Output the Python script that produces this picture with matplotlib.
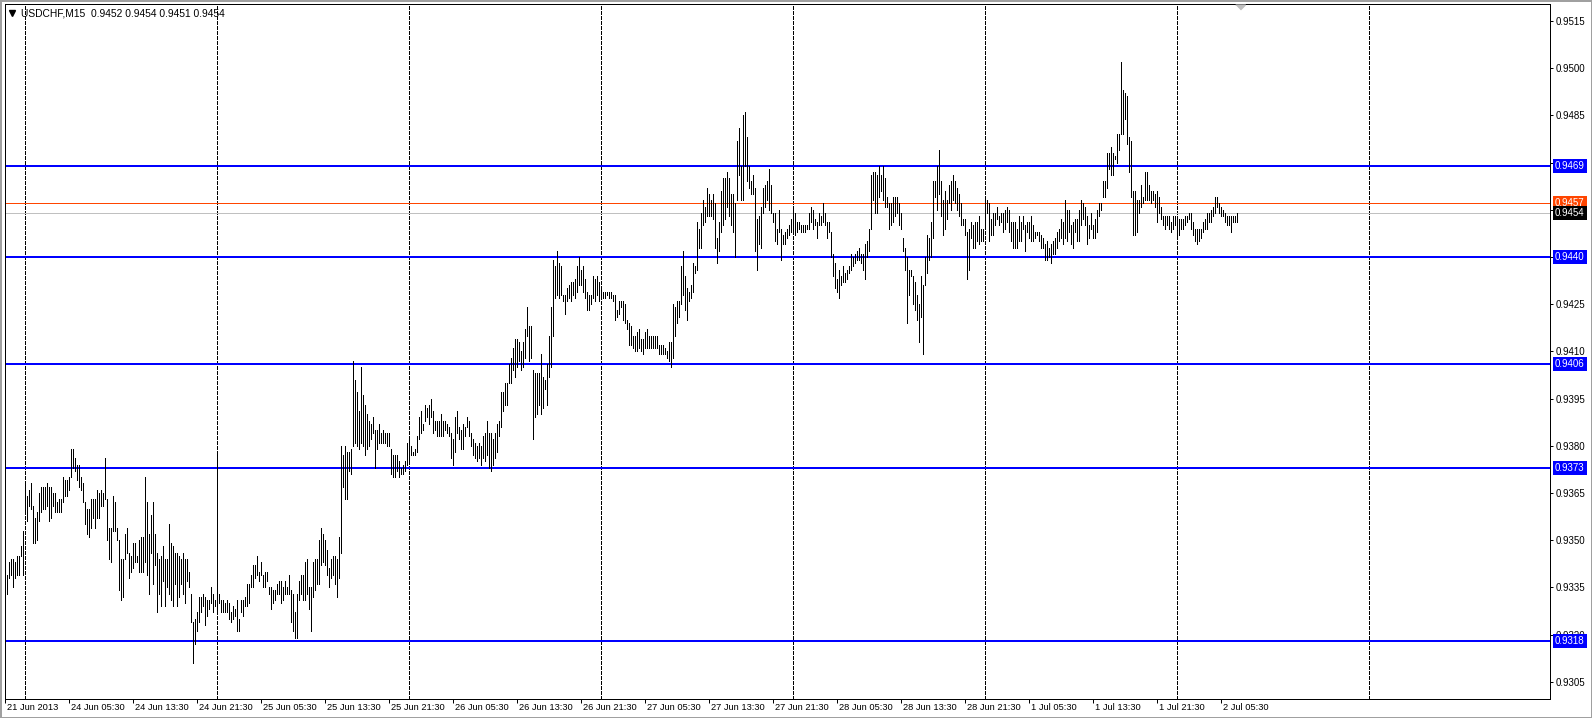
import matplotlib
matplotlib.use("Agg")
import matplotlib.pyplot as plt
import matplotlib.transforms as mtransforms
from matplotlib.lines import Line2D
from matplotlib.patches import Rectangle
import numpy as np

# USDCHF M15 bars, high / low in pips above 0.9300 (one value per bar)
base_price = 0.9300
high_pips = [
    39, 39, 43, 44, 44, 43, 45, 45, 48, 53, 68, 64, 66, 68, 61, 57, 59, 65, 67, 67,
    67, 68, 67, 67, 65, 65, 62, 63, 63, 70, 69, 69, 70, 79, 79, 76, 74, 74, 70, 68,
    62, 60, 60, 63, 63, 63, 66, 65, 66, 65, 76, 63, 54, 54, 64, 62, 54, 50, 44, 44,
    52, 54, 46, 45, 49, 49, 45, 50, 51, 51, 70, 62, 52, 58, 62, 52, 46, 44, 45, 48,
    44, 44, 55, 49, 48, 46, 46, 45, 44, 46, 44, 44, 40, 33, 24, 25, 27, 32, 32, 33,
    32, 31, 31, 35, 33, 31, 78, 33, 31, 31, 30, 31, 30, 27, 29, 28, 31, 25,
    31, 31, 32, 36, 36, 39, 42, 42, 45, 40, 43, 39, 40, 40, 35, 35, 34, 34, 36, 37,
    37, 35, 37, 35, 39, 34, 33, 27, 33, 37, 39, 39, 43, 44, 35, 35, 43, 44, 44, 50,
    54, 52, 50, 47, 41, 44, 45, 45, 44, 51, 80, 77, 80, 78, 78, 79, 107, 101, 97, 91,
    105, 96, 93, 90, 88, 87, 89, 85, 85, 87, 84, 85, 84, 84, 84, 79, 77, 77, 77, 75,
    73, 74, 75, 81, 82, 80, 78, 79, 83, 89, 91, 87, 93, 92, 93, 95, 91, 88, 88, 88,
    90, 88, 88, 87, 86, 84, 82, 89, 91, 86, 85, 87, 86, 89, 88,
    84, 82, 81, 80, 81, 80, 83, 84, 88, 84, 84, 82, 84, 87, 88, 97, 97, 100, 100, 106,
    108, 111, 114, 114, 113, 110, 113, 117, 124, 118, 118, 104, 103, 103, 103, 109, 102, 101, 106, 115,
    124, 139, 137, 142, 138, 137, 128, 128, 130, 131, 132, 132, 133, 137, 140, 136, 137, 133, 129, 128,
    128, 134, 133, 134, 132, 130, 129, 129, 129, 129, 129, 128, 128, 123, 126, 126, 126, 125, 120, 119,
    118, 115, 115, 116, 117, 114, 114, 116, 117, 115, 115, 115, 115, 115, 112, 112, 112, 111, 110, 113,
    113, 125, 124, 126, 126, 137, 142, 134, 130, 129, 131, 138, 137, 151, 149,
    154, 158, 156, 162, 160, 158, 160, 157, 146, 151, 161, 165, 165, 167, 165, 160, 160, 157, 177, 181,
    169, 185, 186, 178, 169, 164, 166, 162, 152, 153, 156, 162, 163, 164, 168, 163, 154, 154, 149, 155,
    149, 147, 148, 149, 150, 152, 156, 154, 151, 151, 150, 150, 150, 150, 154, 156, 155, 152, 151, 154,
    153, 157, 154, 151, 151, 148, 141, 138, 133, 136, 134, 137, 135, 136, 137, 141, 140, 141, 142, 143,
    141, 141, 144, 145, 149, 166, 167, 167, 166, 169, 166, 169, 165, 159, 157, 157, 159, 159, 159, 157,
    154, 146, 143, 140, 136, 136, 134, 132, 128, 125, 134, 131, 140, 147, 146,
    151, 164, 164, 169, 174, 164, 158, 161, 158, 163, 164, 166, 164, 162, 160, 157, 152, 152, 148, 149,
    151, 150, 151, 151, 153, 149, 149, 158, 158, 157, 152, 154, 154, 156, 153, 154, 154, 155, 156, 155,
    151, 151, 151, 149, 153, 151, 153, 150, 151, 151, 153, 150, 148, 148, 148, 147, 146, 144, 145, 143,
    144, 145, 146, 148, 149, 152, 151, 158, 155, 155, 150, 151, 152, 152, 155, 158, 157, 156, 153, 150,
    154, 150, 152, 155, 157, 157, 164, 164, 173, 173, 175, 173, 172, 179, 179, 202, 193, 192, 191, 178,
    177, 161, 161, 158, 158, 163, 159, 167, 167, 163, 161, 161, 160, 161, 159,
    156, 153, 153, 153, 153, 151, 153, 153, 152, 152, 152, 152, 153, 153, 154, 154, 151, 149, 149, 149,
    149, 151, 152, 154, 154, 155, 156, 159, 159, 157, 156, 155, 154, 153, 153, 153, 153, 153, 154,
]
low_pips = [
    31, 33, 38, 39, 35, 38, 39, 39, 45, 39, 59, 56, 61, 60, 49, 49, 50, 56, 59, 60,
    60, 61, 56, 57, 61, 59, 59, 59, 59, 62, 64, 64, 66, 70, 73, 72, 69, 67, 66, 62,
    55, 52, 51, 54, 57, 54, 57, 57, 61, 61, 63, 50, 44, 43, 53, 53, 50, 34, 31, 32,
    44, 46, 38, 40, 41, 43, 43, 40, 40, 40, 43, 39, 33, 46, 36, 42, 27, 33, 29, 37,
    29, 35, 33, 31, 29, 36, 29, 32, 36, 33, 30, 37, 35, 24, 11, 17, 21, 24, 27, 29,
    23, 26, 28, 30, 27, 29, 27, 30, 27, 27, 27, 27, 25, 24, 25, 26, 21, 21,
    27, 26, 29, 29, 30, 35, 35, 38, 39, 37, 39, 35, 35, 37, 33, 28, 30, 31, 33, 33,
    30, 31, 33, 33, 33, 24, 21, 19, 19, 31, 33, 31, 31, 33, 28, 21, 32, 34, 36, 36,
    42, 43, 42, 39, 35, 38, 39, 36, 32, 38, 46, 67, 63, 63, 72, 71, 80, 81, 80, 79,
    81, 80, 77, 79, 80, 82, 84, 73, 79, 81, 81, 81, 81, 80, 80, 71, 70, 70, 72, 70,
    71, 71, 72, 74, 75, 77, 77, 77, 78, 82, 84, 85, 88, 89, 87, 89, 84, 85, 83, 83,
    83, 83, 85, 84, 83, 76, 74, 78, 84, 82, 79, 79, 83, 86, 83,
    80, 77, 76, 75, 76, 74, 76, 75, 77, 73, 72, 74, 76, 78, 83, 86, 91, 93, 93, 100,
    100, 104, 102, 105, 107, 104, 105, 108, 115, 107, 108, 82, 89, 90, 93, 90, 92, 98, 93, 102,
    105, 115, 127, 128, 127, 128, 126, 122, 126, 127, 126, 128, 127, 129, 131, 131, 129, 127, 123, 123,
    125, 127, 126, 128, 126, 127, 127, 127, 128, 127, 127, 126, 120, 121, 122, 124, 120, 119, 117, 112,
    112, 111, 110, 110, 111, 110, 109, 111, 111, 111, 111, 111, 111, 111, 109, 109, 109, 109, 108, 107,
    105, 108, 115, 119, 121, 125, 128, 123, 120, 126, 127, 129, 135, 136, 143,
    143, 150, 151, 153, 153, 153, 152, 143, 138, 142, 148, 150, 152, 156, 153, 150, 148, 140, 158, 166,
    158, 158, 169, 164, 162, 160, 160, 142, 136, 144, 143, 154, 156, 158, 155, 154, 151, 145, 144, 148,
    139, 144, 144, 146, 147, 148, 148, 147, 148, 149, 148, 148, 148, 149, 149, 151, 149, 150, 146, 150,
    150, 151, 150, 146, 148, 140, 134, 130, 129, 127, 131, 132, 132, 133, 135, 136, 137, 138, 139, 139,
    138, 136, 133, 140, 142, 149, 158, 154, 154, 159, 161, 158, 156, 156, 149, 150, 151, 153, 154, 150,
    149, 142, 136, 119, 128, 134, 125, 123, 120, 113, 121, 109, 131, 135, 139,
    140, 146, 159, 155, 160, 153, 147, 149, 152, 157, 155, 158, 157, 155, 153, 150, 150, 147, 133, 136,
    146, 143, 143, 145, 144, 145, 145, 150, 154, 145, 147, 147, 150, 152, 150, 151, 148, 149, 151, 148,
    145, 143, 143, 143, 145, 145, 149, 142, 148, 146, 145, 145, 146, 147, 145, 143, 143, 139, 139, 140,
    138, 141, 141, 143, 145, 146, 144, 146, 145, 148, 144, 143, 148, 145, 145, 150, 152, 150, 144, 146,
    149, 146, 146, 148, 153, 155, 159, 159, 162, 168, 166, 166, 171, 170, 174, 179, 179, 184, 176, 167,
    159, 147, 147, 148, 154, 156, 157, 158, 158, 158, 157, 158, 156, 151, 154,
    152, 150, 149, 150, 149, 148, 149, 150, 147, 147, 149, 149, 150, 151, 152, 149, 147, 145, 144, 145,
    146, 148, 149, 149, 151, 151, 153, 154, 156, 154, 153, 153, 151, 150, 150, 148, 151, 151, 151,
]

# horizontal levels drawn on the chart
support_levels = [0.9469, 0.9440, 0.9406, 0.9373, 0.9318]
ask_price = 0.9457
bid_price = 0.9454

# time axis: bar index of each label, and of each day separator
tick_bars = [0, 32, 64, 96, 128, 160, 192, 224, 256, 288, 320, 352, 384, 416,
             448, 480, 512, 544, 576, 608]
tick_labels = ["21 Jun 2013", "24 Jun 05:30", "24 Jun 13:30", "24 Jun 21:30",
               "25 Jun 05:30", "25 Jun 13:30", "25 Jun 21:30", "26 Jun 05:30",
               "26 Jun 13:30", "26 Jun 21:30", "27 Jun 05:30", "27 Jun 13:30",
               "27 Jun 21:30", "28 Jun 05:30", "28 Jun 13:30", "28 Jun 21:30",
               "1 Jul 05:30", "1 Jul 13:30", "1 Jul 21:30", "2 Jul 05:30"]
day_bars = [10, 106, 202, 298, 394, 490, 586, 682]
price_ticks = [0.9305, 0.9320, 0.9335, 0.9350, 0.9365, 0.9380, 0.9395, 0.9410,
               0.9425, 0.9440, 0.9455, 0.9470, 0.9485, 0.9500, 0.9515]
header = "USDCHF,M15  0.9452 0.9454 0.9451 0.9454"

W, H = 1592, 718
PX = 72 / 100  # one pixel in points
FONT = "Liberation Sans"

fig = plt.figure(figsize=(W / 100, H / 100), dpi=100)
fig.patch.set_facecolor("white")
ax = fig.add_axes([4.5 / W, (H - 699) / H, 1545.5 / W, 695 / H])

highs = base_price + np.array(high_pips) / 10000
lows = base_price + np.array(low_pips) / 10000
bars = np.arange(len(highs))

ax.set_xlim(-0.25, 772.5)
ax.set_ylim(base_price - 0.5 / 10000, base_price + 220.4 / 10000)

# day separators
for b in day_bars:
    ax.axvline(b, color="black", lw=PX, linestyle=(0, (3, 2)), antialiased=False, zorder=1)

# price bars
ax.vlines(bars, lows, highs, color="black", lw=PX, antialiased=False, zorder=3)

# levels
for lv in support_levels:
    ax.axhline(lv, color="#0000FF", lw=2 * PX, zorder=2)
ax.axhline(ask_price, color="#FF4500", lw=PX, zorder=2)
ax.axhline(bid_price, color="#C0C0C0", lw=PX, zorder=2)

for sp in ax.spines.values():
    sp.set_color("black")
    sp.set_linewidth(PX)

# right price scale
ax.yaxis.tick_right()
ax.set_yticks(price_ticks)
ax.set_yticklabels([f"{p:.4f}" for p in price_ticks])
ax.tick_params(axis="y", direction="out", length=3 * PX, width=PX, pad=3 * PX,
               labelsize=7.0, colors="black")
for lbl in ax.get_yticklabels():
    lbl.set_family(FONT)

# time scale, labels start just right of the tick
ax.set_xticks(tick_bars)
ax.set_xticklabels([])
ax.tick_params(axis="x", direction="out", length=4 * PX, width=PX)
xtrans = mtransforms.blended_transform_factory(ax.transData, ax.transAxes)
xtrans = mtransforms.offset_copy(xtrans, fig=fig, x=2, y=-4, units="dots")
for b, t in zip(tick_bars, tick_labels):
    ax.text(b, 0, t, transform=xtrans, ha="left", va="top", fontsize=6.7,
            family=FONT, clip_on=False)

# boxed price labels on the scale
ytrans = mtransforms.blended_transform_factory(ax.transAxes, ax.transData)
ytrans = mtransforms.offset_copy(ytrans, fig=fig, x=5, y=0, units="dots")
boxes = [(lv, "#0000FF") for lv in support_levels] + [(ask_price, "#FF4500"), (bid_price, "black")]
for lv, col in boxes:
    ax.text(1.0, lv, f"{lv:.4f}", transform=ytrans, ha="left", va="center",
            fontsize=7.0, family=FONT, color="white", clip_on=False, zorder=6,
            bbox=dict(boxstyle="square,pad=0.22", fc=col, ec="none"))

# header line with the little menu triangle
fig.add_artist(Line2D([12 / W], [1 - 13 / H], marker="v", ms=4.5, color="black",
                      transform=fig.transFigure))
fig.text(21 / W, 1 - 13 / H, header, ha="left", va="center", fontsize=7.4, family=FONT)

# chart shift marker
fig.add_artist(Line2D([1239.5 / W], [1 - 7 / H], marker=[(-1, 0.5), (1, 0.5), (0, -0.5)],
                      ms=7, color="#C0C0C0", mec="#C0C0C0", transform=fig.transFigure))

# window frame
fig.add_artist(Rectangle((0, 0), 1, 1, transform=fig.transFigure, fill=False,
                         ec="#A0A0A0", lw=3 * PX))

fig.savefig("out.png", dpi=100)
